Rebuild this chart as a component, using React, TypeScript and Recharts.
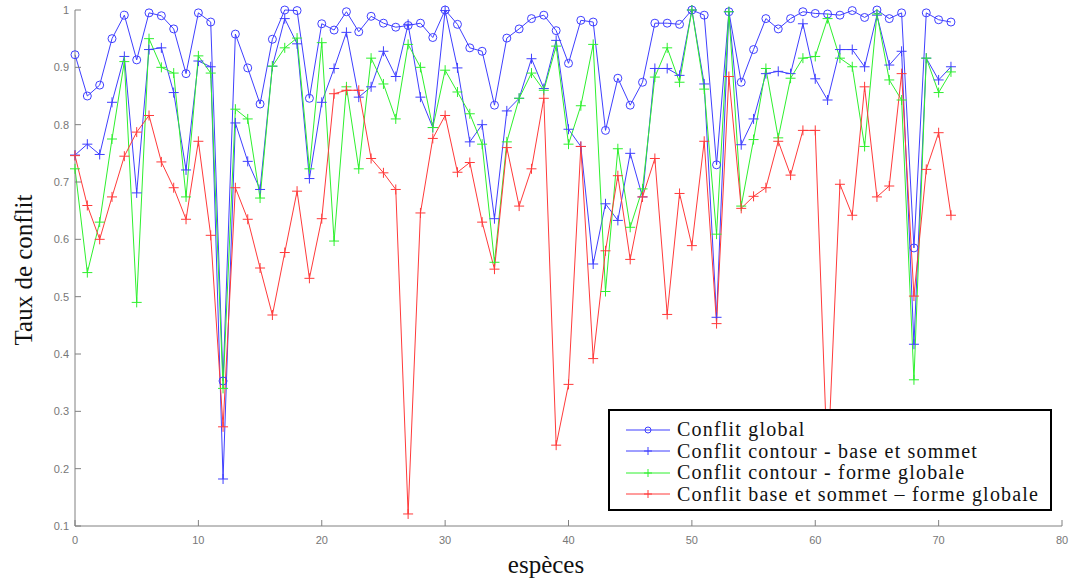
import { LineChart, Line, XAxis, YAxis, Legend } from "recharts";

// taux de conflit par espèce (index 0..71)
const conflitGlobal = [
  0.922, 0.85, 0.869, 0.95, 0.991, 0.913, 0.995, 0.99, 0.967, 0.889,
  0.995, 0.979, 0.353, 0.958, 0.899, 0.836, 0.949, 1.0, 0.999, 0.846,
  0.976, 0.965, 0.997, 0.962, 0.989, 0.977, 0.97, 0.973, 0.977, 0.952,
  1.0, 0.975, 0.934, 0.928, 0.834, 0.951, 0.967, 0.985, 0.991, 0.964,
  0.907, 0.982, 0.979, 0.79, 0.881, 0.834, 0.874, 0.977, 0.977, 0.975,
  1.0, 0.991, 0.73, 0.997, 0.874, 0.931, 0.985, 0.967, 0.985, 0.997,
  0.994, 0.993, 0.991, 0.999, 0.987, 1.0, 0.985, 0.995, 0.585, 0.995,
  0.983, 0.979,
];

const contourBaseSommet = [
  0.747, 0.766, 0.748, 0.839, 0.919, 0.681, 0.931, 0.934, 0.856, 0.721,
  0.911, 0.901, 0.182, 0.803, 0.736, 0.687, 0.902, 0.985, 0.941, 0.706,
  0.839, 0.898, 0.961, 0.848, 0.866, 0.928, 0.884, 0.975, 0.848, 0.795,
  0.999, 0.899, 0.77, 0.8, 0.636, 0.824, 0.846, 0.915, 0.863, 0.947,
  0.792, 0.762, 0.557, 0.662, 0.633, 0.75, 0.674, 0.898, 0.898, 0.886,
  1.0, 0.871, 0.464, 0.997, 0.765, 0.81, 0.889, 0.893, 0.889, 0.976,
  0.88, 0.843, 0.931, 0.931, 0.901, 0.991, 0.904, 0.928, 0.417, 0.916,
  0.878, 0.901,
];

const contourForme = [
  0.723, 0.542, 0.63, 0.775, 0.91, 0.49, 0.95, 0.9, 0.89, 0.674,
  0.92, 0.89, 0.34, 0.827, 0.81, 0.672, 0.902, 0.934, 0.951, 0.723,
  0.943, 0.597, 0.866, 0.723, 0.916, 0.871, 0.81, 0.94, 0.9, 0.795,
  0.895, 0.857, 0.819, 0.766, 0.56, 0.77, 0.846, 0.89, 0.86, 0.937,
  0.766, 0.833, 0.94, 0.509, 0.758, 0.621, 0.688, 0.883, 0.934, 0.874,
  1.0, 0.862, 0.609, 0.997, 0.658, 0.774, 0.898, 0.777, 0.881, 0.916,
  0.919, 0.985, 0.916, 0.901, 0.762, 0.993, 0.878, 0.843, 0.355, 0.916,
  0.856, 0.892,
];

const baseSommetForme = [
  0.746, 0.659, 0.6, 0.674, 0.745, 0.787, 0.816, 0.735, 0.69, 0.635,
  0.771, 0.607, 0.273, 0.69, 0.635, 0.55, 0.468, 0.577, 0.684, 0.532,
  0.636, 0.854, 0.86, 0.86, 0.741, 0.716, 0.687, 0.121, 0.646, 0.776,
  0.816, 0.717, 0.734, 0.63, 0.548, 0.76, 0.658, 0.723, 0.846, 0.241,
  0.347, 0.762, 0.392, 0.58, 0.711, 0.565, 0.674, 0.741, 0.469, 0.68,
  0.589, 0.771, 0.453, 0.884, 0.654, 0.675, 0.69, 0.771, 0.712, 0.79,
  0.79, 0.2, 0.696, 0.642, 0.866, 0.674, 0.693, 0.889, 0.501, 0.722,
  0.786, 0.642,
];

const xTicks = [0, 10, 20, 30, 40, 50, 60, 70, 80];
const yTicks = [0.1, 0.2, 0.3, 0.4, 0.5, 0.6, 0.7, 0.8, 0.9, 1];

const seriesNames = [
  "Conflit global",
  "Conflit contour - base et sommet",
  "Conflit contour - forme globale",
  "Conflit base et sommet \u2013 forme globale",
];

const BLUE = "#3f3fff";
const GREEN = "#2ef02e";
const RED = "#ff3a3a";
const AXIS = "#808080";
const SERIF = '"Liberation Serif", "DejaVu Serif", serif';

const chartData = conflitGlobal.map((v, i) => ({
  espece: i,
  global: v,
  baseSommet: contourBaseSommet[i],
  forme: contourForme[i],
  baseForme: baseSommetForme[i],
}));

function CircleDot(props: any) {
  const { cx, cy, stroke } = props;
  if (cx == null || cy == null) return null;
  return <circle cx={cx} cy={cy} r={4} fill="none" stroke={stroke} strokeWidth={1} />;
}

function PlusDot(props: any) {
  const { cx, cy, stroke } = props;
  if (cx == null || cy == null) return null;
  return (
    <g stroke={stroke} strokeWidth={1}>
      <line x1={cx - 5} y1={cy} x2={cx + 5} y2={cy} />
      <line x1={cx} y1={cy - 5} x2={cx} y2={cy + 5} />
    </g>
  );
}

const legendColors = [BLUE, BLUE, GREEN, RED];

function LegendBox() {
  return (
    <div
      style={{
        border: "2px solid #000",
        background: "#fff",
        padding: "8px 6px 4px 14px",
        fontFamily: SERIF,
        fontSize: 20,
        lineHeight: "21.5px",
        color: "#111",
        boxSizing: "border-box",
        width: 444,
        height: 102,
      }}
    >
      {seriesNames.map((name, i) => (
        <div key={name} style={{ display: "flex", alignItems: "center", height: 21.5 }}>
          <svg width={48} height={12} style={{ flex: "none" }}>
            <line x1={2} y1={6} x2={46} y2={6} stroke={legendColors[i]} strokeWidth={1} />
            {i === 0 ? (
              <circle cx={24} cy={6} r={3} fill="none" stroke={legendColors[i]} />
            ) : (
              <g stroke={legendColors[i]}>
                <line x1={20} y1={6} x2={28} y2={6} />
                <line x1={24} y1={2} x2={24} y2={10} />
              </g>
            )}
          </svg>
          <span style={{ marginLeft: 5, letterSpacing: 1.2, whiteSpace: "nowrap" }}>{name}</span>
        </div>
      ))}
    </div>
  );
}

const tickStyle = { fontSize: 11, fill: "#777", fontFamily: '"Liberation Sans", Arial, sans-serif' };

export default function App() {
  return (
    <div style={{ position: "absolute", left: 0, top: 0, width: 1070, height: 578, background: "#fff" }}>
      <LineChart
        width={1070}
        height={578}
        data={chartData}
        margin={{ top: 10, right: 8, bottom: 0, left: 0 }}
      >
        <XAxis
          dataKey="espece"
          type="number"
          domain={[0, 80]}
          ticks={xTicks}
          height={52}
          stroke={AXIS}
          tickSize={-6}
          tickMargin={16}
          tick={tickStyle}
          label={{
            content: (p: any) => {
              const vb = p.viewBox;
              return (
                <text
                  x={546}
                  y={vb.y + 47}
                  textAnchor="middle"
                  fontFamily={SERIF}
                  fontSize={25}
                  fill="#111"
                >
                  espèces
                </text>
              );
            },
          }}
        />
        <XAxis
          xAxisId="top"
          dataKey="espece"
          type="number"
          orientation="top"
          domain={[0, 80]}
          ticks={xTicks}
          height={0}
          stroke={AXIS}
          tickSize={-6}
          tick={false}
        />
        <YAxis
          type="number"
          domain={[0.1, 1]}
          ticks={yTicks}
          width={75}
          stroke={AXIS}
          tickSize={-6}
          tickMargin={12}
          tick={tickStyle}
          tickFormatter={(v: number) => (v === 1 ? "1" : v.toFixed(1))}
          label={{
            content: (p: any) => {
              const vb = p.viewBox;
              const cx = vb.x + 23;
              const cy = 270;
              return (
                <text
                  transform={`translate(${cx},${cy}) rotate(-90)`}
                  textAnchor="middle"
                  dominantBaseline="central"
                  fontFamily={SERIF}
                  fontSize={25}
                  fill="#111"
                >
                  Taux de conflit
                </text>
              );
            },
          }}
        />
        <YAxis
          yAxisId="right"
          type="number"
          orientation="right"
          domain={[0.1, 1]}
          ticks={yTicks}
          width={0}
          stroke={AXIS}
          tickSize={-6}
          tick={false}
        />
        <Line
          dataKey="global"
          stroke={BLUE}
          strokeWidth={1}
          dot={(p: any) => <CircleDot key={p.index} {...p} />}
          activeDot={false}
          isAnimationActive={false}
        />
        <Line
          dataKey="baseSommet"
          stroke={BLUE}
          strokeWidth={1}
          dot={(p: any) => <PlusDot key={p.index} {...p} />}
          activeDot={false}
          isAnimationActive={false}
        />
        <Line
          dataKey="forme"
          stroke={GREEN}
          strokeWidth={1}
          dot={(p: any) => <PlusDot key={p.index} {...p} />}
          activeDot={false}
          isAnimationActive={false}
        />
        <Line
          dataKey="baseForme"
          stroke={RED}
          strokeWidth={1}
          dot={(p: any) => <PlusDot key={p.index} {...p} />}
          activeDot={false}
          isAnimationActive={false}
        />
        <Legend
          layout="horizontal"
          verticalAlign="middle"
          align="center"
          content={() => <LegendBox />}
          wrapperStyle={{ left: 608, top: 409, width: 444, height: 102, right: "auto", bottom: "auto" }}
        />
      </LineChart>
    </div>
  );
}
